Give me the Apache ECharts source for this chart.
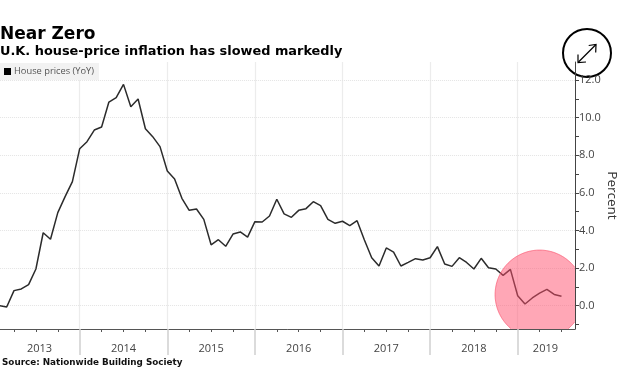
<!DOCTYPE html>
<html><head><meta charset="utf-8">
<style>html,body{margin:0;padding:0;background:#fff}#c{width:629px;height:381px}</style>
<script src="https://cdn.jsdelivr.net/npm/echarts@6/dist/echarts.min.js"></script>
</head><body><div id="c"></div>
<script>
var titleText = 'Near Zero';
var subtitleText = 'U.K. house-price inflation has slowed markedly';
var sourceText = 'Source: Nationwide Building Society';
var seriesName = 'House prices (YoY)';
var yearLabels = ['2013','2014','2015','2016','2017','2018','2019'];
var yearLabelMonths = [6.5,18,30,42,54,66,75.8];
var yearTicks = [12,24,36,48,60,72];
var yTickLabels = [0,2,4,6,8,10,12];
var yTicks = [-1,0,1,2,3,4,5,6,7,8,9,10,11,12];
var quarterTicks = [3,6,9,15,18,21,27,30,33,39,42,45,51,54,57,63,66,69,75,78];
var housePrices = [0.0,-0.07,0.8,0.89,1.12,1.95,3.88,3.53,4.95,5.8,6.6,8.35,8.72,9.34,9.5,10.83,11.06,11.77,10.58,10.99,9.41,8.99,8.46,7.16,6.74,5.71,5.07,5.14,4.59,3.24,3.51,3.16,3.81,3.92,3.65,4.47,4.45,4.77,5.66,4.88,4.7,5.07,5.16,5.53,5.32,4.59,4.38,4.49,4.26,4.52,3.49,2.55,2.11,3.07,2.85,2.11,2.3,2.5,2.43,2.55,3.14,2.22,2.09,2.55,2.3,1.95,2.52,2.02,1.95,1.61,1.93,0.53,0.09,0.41,0.67,0.87,0.6,0.5];
var circleCentre = [75, 0.59];
var circleRadius = 44.5;
var xMax = 79.85, yMin = -1.24, yMax = 12.96;

var lineData = housePrices.map(function(v,i){return [i+1,v];});
var fontA = '"Open Sans", sans-serif';
var fontB = '"DejaVu Sans", sans-serif';
var chart = echarts.init(document.getElementById('c'), null, {renderer:'canvas'});
chart.setOption({
  animation:false,
  backgroundColor:'#fff',
  legend:{left:0,top:63,padding:[4,5,4,4],itemWidth:7,itemHeight:7,itemGap:2,backgroundColor:'#f2f2f2',icon:'rect',
    data:[{name:seriesName,itemStyle:{color:'#000'}}],
    textStyle:{fontFamily:fontA,fontSize:9.3,color:'#555',padding:[0,0,0,-2]}},
  grid:{left:-7.9,top:62,width:582.9,height:267,containLabel:false,outerBoundsMode:'none'},
  xAxis:[
   {type:'value',min:0,max:xMax,interval:12,position:'bottom',
    axisLine:{show:true,onZero:false,lineStyle:{color:'#555',width:1}},
    axisTick:{show:true,customValues:yearTicks,length:26,lineStyle:{color:'#d0d0d0',width:1.5}},
    splitLine:{show:true,lineStyle:{color:'#ececec',width:1.2}},
    axisLabel:{show:true,customValues:yearLabelMonths,margin:14,hideOverlap:false,showMinLabel:true,showMaxLabel:true,fontFamily:fontA,fontSize:11,color:'#444',
      formatter:function(v){var i=yearLabelMonths.indexOf(v);return i>=0?yearLabels[i]:'';}}},
   {type:'value',min:0,max:xMax,interval:3,position:'bottom',
    axisLine:{show:false,onZero:false},
    axisTick:{show:true,customValues:quarterTicks,length:3,lineStyle:{color:'#555',width:1}},
    splitLine:{show:false},axisLabel:{show:false}}
  ],
  yAxis:[{type:'value',min:yMin,max:yMax,interval:2,position:'right',
    axisLine:{show:true,onZero:false,lineStyle:{color:'#444',width:1}},
    axisTick:{show:true,customValues:yTicks,length:4,lineStyle:{color:'#444',width:1}},
    splitLine:{show:false},
    axisLabel:{show:true,customValues:yTickLabels,margin:4,fontFamily:fontA,fontSize:11,color:'#444',
      formatter:function(v){return v.toFixed(1);}},
    name:'Percent',nameLocation:'middle',nameGap:30,nameRotate:-90,nameMoveOverlap:false,
    nameTextStyle:{fontFamily:fontA,fontSize:13.5,color:'#333'}}],
  series:[
   {name:seriesName,type:'line',data:lineData,symbol:'none',clip:false,z:3,
    lineStyle:{color:'#2b2b2b',width:1.5},itemStyle:{color:'#000'},
    markLine:{silent:true,symbol:'none',label:{show:false},animation:false,z:1,
      lineStyle:{color:'#e4e4e4',type:'dotted',width:1},
      data:yTickLabels.map(function(v){return {yAxis:v};})}},
   {type:'custom',z:5,silent:true,data:[circleCentre],
    renderItem:function(p,api){
      var c=api.coord([api.value(0),api.value(1)]);
      var lim=api.coord([xMax,yMin]);
      var x1=lim[0], y1=lim[1];
      var fillPts=[], runs=[], run=null;
      for(var a=0;a<=360;a+=1){
        var t=(a+45)*Math.PI/180;
        var px=c[0]+circleRadius*Math.cos(t), py=c[1]+circleRadius*Math.sin(t);
        fillPts.push([Math.min(px,x1),Math.min(py,y1)]);
        if(px<=x1&&py<=y1){ if(!run){run=[];runs.push(run);} run.push([px,py]); }
        else run=null;
      }
      var kids=[{type:'polygon',shape:{points:fillPts},style:{fill:'rgba(255,80,110,0.5)'}}];
      runs.forEach(function(pts){
        kids.push({type:'polyline',shape:{points:pts},style:{fill:'none',stroke:'rgba(250,90,115,0.75)',lineWidth:1}});
      });
      return {type:'group',children:kids};
    }}
  ],
  graphic:[
   {type:'text',left:0,top:26,style:{text:titleText,fontFamily:fontB,fontWeight:'bold',fontSize:17,fill:'#000'}},
   {type:'text',left:0,top:45,style:{text:subtitleText,fontFamily:fontB,fontWeight:'bold',fontSize:12.9,fill:'#000'}},
   {type:'text',left:2,top:358,style:{text:sourceText,fontFamily:fontB,fontWeight:'bold',fontSize:8.8,fill:'#111'}},
   {type:'group',left:562,top:28,z:100,children:[
     {type:'circle',shape:{cx:24,cy:24.5,r:24},style:{fill:'#fff',stroke:'#000',lineWidth:2}},
     {type:'polyline',shape:{points:[[15.5,33.5],[33,16]]},style:{fill:'none',stroke:'#000',lineWidth:1.2}},
     {type:'polyline',shape:{points:[[25.7,17],[33,16],[32.7,24]]},style:{fill:'none',stroke:'#000',lineWidth:1.2}},
     {type:'polyline',shape:{points:[[15,26],[15,34],[23,33.5]]},style:{fill:'none',stroke:'#000',lineWidth:1.2}}
   ]}
  ]
});
</script></body></html>
